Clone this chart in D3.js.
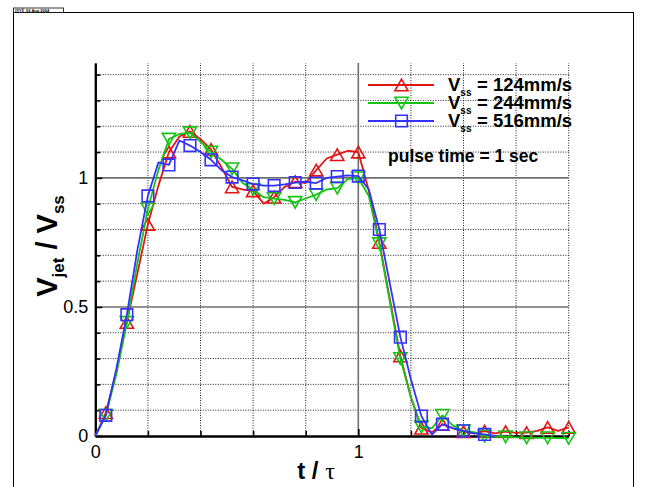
<!DOCTYPE html>
<html>
<head>
<meta charset="utf-8">
<script src="https://cdn.jsdelivr.net/npm/d3@7"></script>
<style>
  body { margin: 0; background: #fff; }
  svg { display: block; font-family: "Liberation Sans", Arial, sans-serif; }
</style>
</head>
<body>
<div id="chart"></div>
<script>
// time samples t / tau (every 0.04), markers drawn on every other sample
const tValues = [0, 0.04, 0.08, 0.12, 0.16, 0.20, 0.24, 0.28, 0.32, 0.36, 0.40, 0.44, 0.48,
  0.52, 0.56, 0.60, 0.64, 0.68, 0.72, 0.76, 0.80, 0.84, 0.88, 0.92, 0.96, 1.00, 1.04, 1.08,
  1.12, 1.16, 1.20, 1.24, 1.28, 1.32, 1.36, 1.40, 1.44, 1.48, 1.52, 1.56, 1.60, 1.64, 1.68,
  1.72, 1.76, 1.80];

// Vjet / Vss for each steady speed
const v124 = [0, 0.09, 0.25, 0.44, 0.63, 0.82, 0.97, 1.10, 1.16, 1.18, 1.15, 1.11, 1.04,
  0.965, 0.955, 0.95, 0.90, 0.925, 0.965, 0.985, 0.98, 1.03, 1.075, 1.09, 1.105, 1.10, 0.95, 0.75,
  0.53, 0.31, 0.15, 0.03, 0.015, 0.045, 0.03, 0.017, 0.01, 0.019, 0.01, 0.017, 0.012, 0.013, 0.02,
  0.033, 0.02, 0.033];
const v244 = [0, 0.08, 0.24, 0.44, 0.67, 0.88, 1.03, 1.15, 1.17, 1.175, 1.14, 1.10, 1.07,
  1.035, 0.98, 0.955, 0.925, 0.92, 0.915, 0.905, 0.92, 0.935, 0.955, 0.96, 0.995, 1.0, 0.93, 0.745,
  0.52, 0.30, 0.15, 0.035, 0.03, 0.08, 0.04, 0.02, 0.015, 0.0, -0.002, -0.003, -0.005, -0.007, -0.007,
  -0.007, -0.008, -0.009];
const v516 = [0, 0.08, 0.26, 0.47, 0.72, 0.93, 1.06, 1.05, 1.145, 1.125, 1.10, 1.07, 1.03,
  1.003, 0.99, 0.976, 0.97, 0.97, 0.975, 0.982, 0.985, 0.98, 1.0, 1.005, 1.01, 1.007, 0.955, 0.80,
  0.59, 0.383, 0.22, 0.077, 0.005, 0.046, 0.03, 0.02, 0.01, 0.006, 0.0];

const seriesNames = ['124mm/s', '244mm/s', '516mm/s'];
const seriesColors = ['#e31414', '#14c414', '#3232ff'];
const seriesSymbols = ['up', 'down', 'square'];

const xMajorTicks = [0, 1];
const xMinorTicks = [0.2, 0.4, 0.6, 0.8, 1.2, 1.4, 1.6, 1.8];
const yMajorTicks = [0, 0.5, 1];
const yMinorTicks = [0.1, 0.2, 0.3, 0.4, 0.6, 0.7, 0.8, 0.9, 1.1, 1.2, 1.3, 1.4];

const W = 648, H = 487;
const svg = d3.select('#chart').append('svg')
  .attr('width', W).attr('height', H);

// page frame + header stamp
svg.append('rect')
  .attr('x', 13.5).attr('y', 12.5).attr('width', 620).attr('height', 476)
  .attr('fill', 'none').attr('stroke', '#000').attr('stroke-width', 1);
svg.append('rect')
  .attr('x', 13.5).attr('y', 8).attr('width', 50).attr('height', 4.5)
  .attr('fill', '#fff').attr('stroke', '#000').attr('stroke-width', 0.8);
svg.append('line').attr('x1', 23).attr('x2', 23).attr('y1', 8).attr('y2', 12.5)
  .attr('stroke', '#000').attr('stroke-width', 0.6);
svg.append('text').attr('x', 15).attr('y', 11.8).attr('font-size', 4).attr('font-weight', 'bold')
  .text('(XY)');
svg.append('text').attr('x', 26).attr('y', 11.8).attr('font-size', 4).attr('font-weight', 'bold')
  .text('02 Aug 2004');

const xScale = d3.scaleLinear().domain([0, 1.8]).range([95.3, 568.7]);
const yScale = d3.scaleLinear().domain([0, 1.445]).range([436, 63]);

const grid = svg.append('g');
// dotted minor grid
grid.selectAll('.vminor').data(xMinorTicks).enter().append('line')
  .attr('x1', d => xScale(d)).attr('x2', d => xScale(d))
  .attr('y1', yScale(0)).attr('y2', yScale(1.445))
  .attr('stroke', '#222').attr('stroke-width', 1).attr('stroke-dasharray', '1,1.5');
grid.selectAll('.hminor').data(yMinorTicks).enter().append('line')
  .attr('x1', xScale(0)).attr('x2', xScale(1.8))
  .attr('y1', d => yScale(d)).attr('y2', d => yScale(d))
  .attr('stroke', '#222').attr('stroke-width', 1).attr('stroke-dasharray', '1,1.5');
// solid major grid
grid.selectAll('.vmajor').data(xMajorTicks.filter(d => d > 0)).enter().append('line')
  .attr('x1', d => xScale(d)).attr('x2', d => xScale(d))
  .attr('y1', yScale(0)).attr('y2', yScale(1.445))
  .attr('stroke', '#6e6e6e').attr('stroke-width', 1.6);
grid.selectAll('.hmajor').data(yMajorTicks.filter(d => d > 0)).enter().append('line')
  .attr('x1', xScale(0)).attr('x2', xScale(1.8))
  .attr('y1', d => yScale(d)).attr('y2', d => yScale(d))
  .attr('stroke', '#6e6e6e').attr('stroke-width', 1.6);

// axes (ticks point inward)
const yAxisMinor = d3.axisLeft(yScale).tickValues(yMinorTicks).tickFormat('')
  .tickSize(-5).tickSizeOuter(0);
const yAxis = d3.axisLeft(yScale).tickValues(yMajorTicks).tickFormat(d3.format('~g'))
  .tickSize(-7).tickSizeOuter(0).tickPadding(7);
const xAxisMinor = d3.axisBottom(xScale).tickValues(xMinorTicks).tickFormat('')
  .tickSize(-5).tickSizeOuter(0);
const xAxis = d3.axisBottom(xScale).tickValues(xMajorTicks).tickFormat(d3.format('~g'))
  .tickSize(-7).tickSizeOuter(0).tickPadding(9);

function styleAxis(g) {
  g.select('.domain').attr('stroke', '#000').attr('stroke-width', 2);
  g.selectAll('.tick line').attr('stroke', '#000').attr('stroke-width', 1.6);
  g.selectAll('.tick text').attr('font-size', 18).attr('fill', '#000')
    .attr('font-family', '"Liberation Sans", Arial, sans-serif');
}
svg.append('g').attr('transform', 'translate(' + xScale(0) + ',0)').call(yAxisMinor).call(styleAxis);
svg.append('g').attr('transform', 'translate(' + xScale(0) + ',0)').call(yAxis).call(styleAxis);
svg.append('g').attr('transform', 'translate(0,' + yScale(0) + ')').call(xAxisMinor).call(styleAxis);
svg.append('g').attr('transform', 'translate(0,' + yScale(0) + ')').call(xAxis).call(styleAxis);

// symbols
function symbolPath(type) {
  if (type === 'up') return 'M0,-5.8L6.6,5.8L-6.6,5.8Z';
  if (type === 'down') return 'M0,5.8L6.6,-5.8L-6.6,-5.8Z';
  return 'M-5.8,-5.8H5.8V5.8H-5.8Z';
}

const allSeries = [v124, v244, v516];
const line = d3.line()
  .x(d => xScale(d.t))
  .y(d => yScale(d.v));

allSeries.forEach(function (vals, s) {
  const pts = vals.map((v, i) => ({ t: tValues[i], v: v, i: i }));
  const g = svg.append('g');
  g.append('path')
    .datum(pts)
    .attr('d', line)
    .attr('fill', 'none')
    .attr('stroke', seriesColors[s])
    .attr('stroke-width', 1.8)
    .attr('stroke-linejoin', 'round');
  g.selectAll('path.sym')
    .data(pts.filter(d => d.i % 2 === 1))
    .enter().append('path')
    .attr('class', 'sym')
    .attr('transform', d => 'translate(' + xScale(d.t) + ',' + yScale(d.v) + ')')
    .attr('d', symbolPath(seriesSymbols[s]))
    .attr('fill', 'none')
    .attr('stroke', seriesColors[s])
    .attr('stroke-width', 1.6);
});

// legend
const legendY = [85, 103, 121];
const legend = svg.append('g');
seriesNames.forEach(function (name, s) {
  legend.append('line')
    .attr('x1', 368).attr('x2', 434)
    .attr('y1', legendY[s]).attr('y2', legendY[s])
    .attr('stroke', seriesColors[s]).attr('stroke-width', 1.8);
  legend.append('path')
    .attr('transform', 'translate(401.5,' + legendY[s] + ')')
    .attr('d', symbolPath(seriesSymbols[s]))
    .attr('fill', 'none').attr('stroke', seriesColors[s]).attr('stroke-width', 1.6);
  const t = legend.append('text')
    .attr('x', 448).attr('y', legendY[s] + 6)
    .attr('font-size', 18.5).attr('font-weight', 'bold');
  t.append('tspan').text('V');
  t.append('tspan').attr('font-size', 10).attr('dy', 5).text('ss');
  t.append('tspan').attr('x', 477).attr('dy', -5).text('= ' + name);
});
svg.append('text')
  .attr('x', 388).attr('y', 162)
  .attr('font-size', 17.5).attr('font-weight', 'bold')
  .text('pulse time = 1 sec');

// axis titles
const yt = svg.append('text')
  .attr('transform', 'translate(57,246) rotate(-90)')
  .attr('text-anchor', 'middle')
  .attr('font-size', 29).attr('font-weight', 'bold');
yt.append('tspan').text('V');
yt.append('tspan').attr('font-size', 17).attr('dy', 7).text('jet');
yt.append('tspan').attr('dy', -7).text(' / V');
yt.append('tspan').attr('font-size', 17).attr('dy', 7).text('ss');

const xt = svg.append('text')
  .attr('x', 316).attr('y', 479)
  .attr('text-anchor', 'middle')
  .attr('font-size', 24).attr('font-weight', 'bold');
xt.append('tspan').text('t / ');
xt.append('tspan').attr('font-family', '"Liberation Serif", "DejaVu Serif", serif')
  .attr('font-weight', 'normal').text('τ');
</script>
</body>
</html>
